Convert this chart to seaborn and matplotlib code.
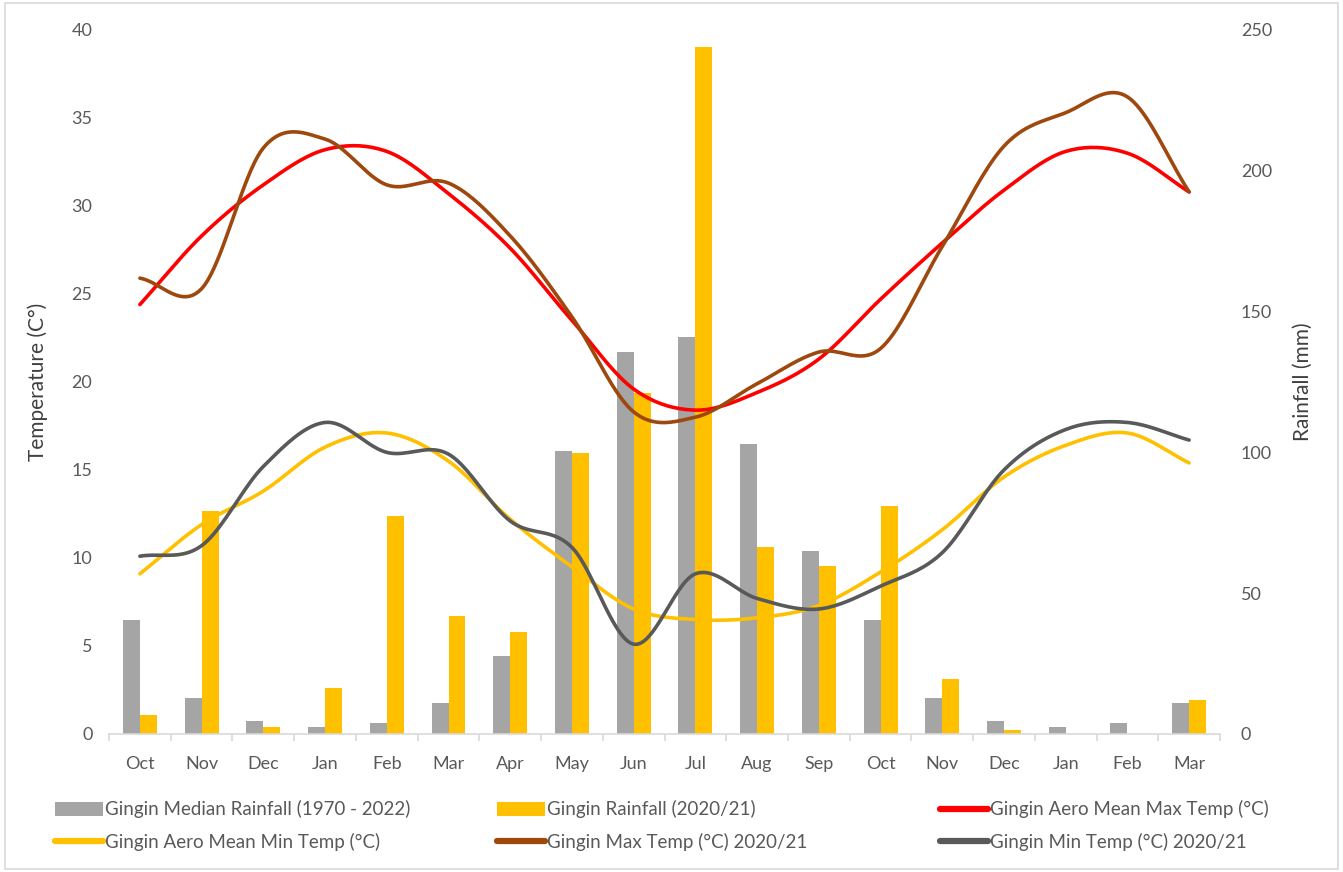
import numpy as np
import pandas as pd
import matplotlib
matplotlib.use("Agg")
import matplotlib.pyplot as plt
import seaborn as sns
from matplotlib.patches import Rectangle
from matplotlib.lines import Line2D
from matplotlib.patches import Patch

# ---------------- data ----------------
months = ["Oct", "Nov", "Dec", "Jan", "Feb", "Mar", "Apr", "May", "Jun",
          "Jul", "Aug", "Sep", "Oct", "Nov", "Dec", "Jan", "Feb", "Mar"]

median_rain = [40.5, 12.9, 4.6, 2.4, 3.8, 10.9, 27.8, 100.5, 135.8,
               141.1, 103.0, 65.1, 40.5, 12.9, 4.6, 2.4, 3.8, 10.9]
rain_2021 = [6.7, 79.3, 2.4, 16.2, 77.4, 42.0, 36.3, 99.7, 121.0,
             244.1, 66.3, 59.8, 81.0, 19.5, 1.4, 0.0, 0.0, 12.1]

mean_max = [24.4, 28.3, 31.2, 33.2, 33.1, 30.7, 27.6, 23.5, 19.6,
            18.4, 19.4, 21.3, 24.7, 27.9, 30.9, 33.1, 33.0, 30.8]
max_2021 = [25.9, 25.3, 33.3, 33.8, 31.2, 31.3, 28.3, 23.7, 18.3,
            18.0, 19.9, 21.7, 21.9, 27.7, 33.4, 35.3, 36.2, 30.8]
mean_min = [9.1, 11.9, 13.8, 16.3, 17.1, 15.5, 12.2, 9.5, 7.1,
            6.5, 6.6, 7.3, 9.2, 11.6, 14.6, 16.4, 17.1, 15.4]
min_2021 = [10.1, 10.7, 15.2, 17.7, 16.0, 15.9, 12.1, 10.6, 5.1,
            9.1, 7.7, 7.1, 8.4, 10.3, 15.0, 17.3, 17.7, 16.7]

rain_labels = ["Gingin Median Rainfall (1970 - 2022)", "Gingin Rainfall (2020/21)"]
line_labels = ["Gingin Aero Mean Max Temp (°C)", "Gingin Aero Mean Min Temp (°C)",
               "Gingin Max Temp (°C) 2020/21", "Gingin Min Temp (°C) 2020/21"]

# ---------------- style ----------------
sns.set_theme(style="white")
plt.rcParams["font.family"] = ["Lato", "DejaVu Sans"]

GREY_BAR = "#A5A5A5"
GOLD = "#FFC000"
RED = "#FF0000"
BROWN = "#9E480E"
DARK = "#595959"
TXT = "#595959"

fig = plt.figure(figsize=(13.43, 8.72), dpi=100)
fig.patches.append(Rectangle((0.004, 0.004), 0.992, 0.992, transform=fig.transFigure,
                             fill=False, edgecolor="#D9D9D9", linewidth=1.2))

ax = fig.add_axes([0.0812, 0.1583, 0.8272, 0.8073])   # temperature (left)
ax2 = ax.twinx()                                       # rainfall (right)

# bars on rainfall axis
n = len(months)
pos = list(range(n))
rain_df = pd.DataFrame({
    "pos": pos * 2,
    "value": median_rain + rain_2021,
    "series": [rain_labels[0]] * n + [rain_labels[1]] * n,
})
sns.barplot(data=rain_df, x="pos", y="value", hue="series", ax=ax2,
            palette=[GREY_BAR, GOLD], width=0.55, gap=0, dodge=True,
            saturation=1, legend=False, native_scale=True, linewidth=0)


# smooth curve (Catmull-Rom rendering like Excel "smoothed line")
def smooth(xs, ys, k=20):
    xs = np.asarray(xs, float)
    ys = np.asarray(ys, float)
    P = np.column_stack([xs, ys])
    P = np.vstack([2 * P[0] - P[1], P, 2 * P[-1] - P[-2]])
    out = []
    t = np.linspace(0, 1, k, endpoint=False)
    for i in range(1, len(P) - 2):
        p0, p1, p2, p3 = P[i - 1], P[i], P[i + 1], P[i + 2]
        c1 = p1 + (p2 - p0) / 6.0
        c2 = p2 - (p3 - p1) / 6.0
        tt = t[:, None]
        seg = ((1 - tt) ** 3) * p1 + 3 * ((1 - tt) ** 2) * tt * c1 + 3 * (1 - tt) * tt ** 2 * c2 + tt ** 3 * p2
        out.append(seg)
    out.append(P[-2][None, :])
    out = np.vstack(out)
    return out[:, 0], out[:, 1]


series = [(mean_max, RED, line_labels[0]),
          (mean_min, GOLD, line_labels[1]),
          (max_2021, BROWN, line_labels[2]),
          (min_2021, DARK, line_labels[3])]
for vals, col, lab in series:
    sx, sy = smooth(pos, vals)
    sns.lineplot(x=sx, y=sy, ax=ax, color=col, linewidth=2.6, sort=False,
                 estimator=None, legend=False)

ax.set_zorder(ax2.get_zorder() + 1)
ax.patch.set_visible(False)

# axes limits / ticks
ax.set_xlim(-0.5, n - 0.5)
ax.set_ylim(0, 40)
ax2.set_ylim(0, 250)
ax.set_yticks(range(0, 41, 5))
ax2.set_yticks(range(0, 251, 50))
ax.set_xticks(pos)
ax.set_xticklabels(months)
ax.set_xticks(np.arange(-0.5, n, 1.0), minor=True)

for a in (ax, ax2):
    for s in a.spines.values():
        s.set_visible(False)
ax.spines["bottom"].set_visible(True)
ax.spines["bottom"].set_color("#D9D9D9")
ax.spines["bottom"].set_linewidth(1.2)

ax.tick_params(axis="x", which="major", length=0, pad=16, labelsize=13, labelcolor=TXT,
               bottom=True, labelbottom=True)
ax.tick_params(axis="x", which="minor", length=5, color="#D9D9D9", width=1.2,
               direction="out", bottom=True)
ax.tick_params(axis="y", length=0, pad=12, labelsize=13, labelcolor=TXT)
ax2.tick_params(axis="y", length=0, pad=15, labelsize=13, labelcolor=TXT)

ax.set_xlabel("")
ax2.set_xlabel("")
ax.set_ylabel("Temperature (C°)", fontsize=15, color="#404040")
ax2.set_ylabel("Rainfall (mm)", fontsize=15, color="#404040")
ax.yaxis.set_label_coords(-0.055, 0.5)
ax2.yaxis.set_label_coords(1.0657, 0.5)
ax.grid(False)
ax2.grid(False)

# legend: three columns, each its own legend with two rows
h_med = Patch(facecolor=GREY_BAR, edgecolor="none")
h_rain = Patch(facecolor=GOLD, edgecolor="none")
h_lines = [Line2D([], [], color=c, linewidth=4.5) for _, c, _ in series]
cols = [
    ([h_med, h_lines[1]], [rain_labels[0], line_labels[1]], 55),
    ([h_rain, h_lines[2]], [rain_labels[1], line_labels[2]], 497),
    ([h_lines[0], h_lines[3]], [line_labels[0], line_labels[3]], 940),
]
for hs, ls, xpx in cols:
    lg = fig.legend(hs, ls, loc="center left", bbox_to_anchor=(xpx / 1343, 0.0533),
                    frameon=False, fontsize=13.5, handlelength=2.55, handleheight=0.75,
                    handletextpad=0.1, labelspacing=0.75, borderpad=0, borderaxespad=0)
    for t in lg.get_texts():
        t.set_color(TXT)

fig.savefig("out.png", dpi=100)
